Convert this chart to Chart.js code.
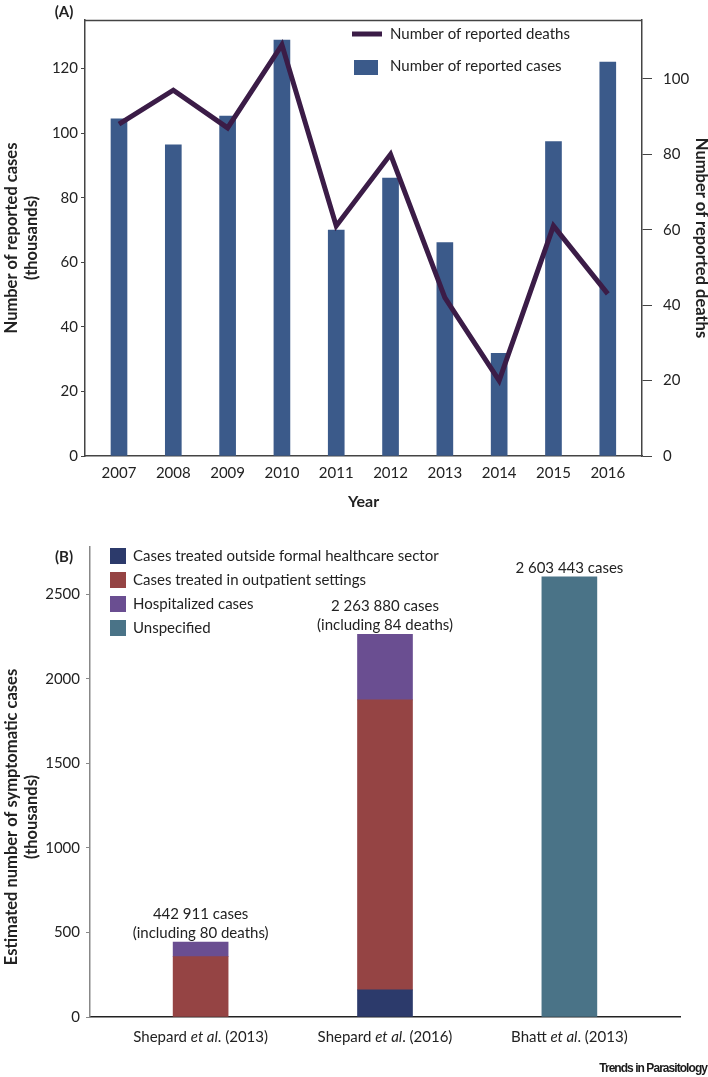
<!DOCTYPE html>
<html>
<head>
<meta charset="utf-8">
<script src="https://cdn.jsdelivr.net/npm/chart.js@4.4.1/dist/chart.umd.min.js"></script>
<style>
html,body{margin:0;padding:0;background:#fff;}
#wrap{position:relative;width:708px;height:1077px;overflow:hidden;background:#fff;}
#boxA{position:absolute;left:0;top:0;width:708px;height:520px;}
#boxB{position:absolute;left:0;top:520px;width:708px;height:557px;}
#brand{position:absolute;right:1px;top:1061px;font-family:"Liberation Sans",Arial,sans-serif;font-weight:bold;font-size:12px;letter-spacing:-0.95px;color:#1a1a1a;white-space:nowrap;}
</style>
</head>
<body>
<div id="wrap">
  <div id="boxA"><canvas id="chartA" width="708" height="520"></canvas></div>
  <div id="boxB"><canvas id="chartB" width="708" height="557"></canvas></div>
  <div id="brand">Trends in Parasitology</div>
</div>
<script>
// ---------- Panel A data ----------
const years = [2007, 2008, 2009, 2010, 2011, 2012, 2013, 2014, 2015, 2016];
const reportedCases = [104.4, 96.4, 105.3, 128.8, 70.0, 86.1, 66.1, 31.8, 97.4, 122.0]; // thousands
const reportedDeaths = [88, 97, 87, 109, 61, 80, 42, 20, 61, 43];
const casesTicks = [0, 20, 40, 60, 80, 100, 120];
const deathsTicks = [0, 20, 40, 60, 80, 100];

// ---------- Panel B data ----------
const studyAuthors = ['Shepard', 'Shepard', 'Bhatt'];
const studyYears = ['2013', '2016', '2013'];
const outsideFormal = [null, 160, null];   // thousands
const outpatient = [357, 1716, null];
const hospitalized = [86, 388, null];
const unspecified = [null, null, 2603];
const totalLabels = [
  ['442 911 cases', '(including 80 deaths)'],
  ['2 263 880 cases', '(including 84 deaths)'],
  ['2 603 443 cases']
];
const symptomaticTicks = [0, 500, 1000, 1500, 2000, 2500];

Chart.defaults.font.family = 'Lato, "Open Sans", sans-serif';
Chart.defaults.color = '#222';

const TXT = '#222';
const tickSet = arr => (s => { s.ticks = arr.map(v => ({value: v})); });

// ---------------- Chart A ----------------
const plugA = {
  id: 'plugA',
  afterDraw(chart) {
    const ctx = chart.ctx, ca = chart.chartArea;
    ctx.save();
    // top border of the box
    ctx.strokeStyle = '#444';
    ctx.lineWidth = 1.5;
    ctx.beginPath();
    ctx.moveTo(ca.left, ca.top + 0.5);
    ctx.lineTo(ca.right, ca.top + 0.5);
    ctx.stroke();
    // panel label
    ctx.fillStyle = TXT;
    ctx.font = 'bold 15px Lato';
    ctx.textAlign = 'center';
    ctx.textBaseline = 'middle';
    ctx.fillText('(A)', 64, 12);
    // legend
    const dsLine = chart.data.datasets[0], dsBar = chart.data.datasets[1];
    ctx.strokeStyle = dsLine.borderColor;
    ctx.lineWidth = 5;
    ctx.beginPath();
    ctx.moveTo(352, 34);
    ctx.lineTo(382, 34);
    ctx.stroke();
    ctx.fillStyle = dsBar.backgroundColor;
    ctx.fillRect(354, 60, 24, 15);
    ctx.fillStyle = TXT;
    ctx.font = '15px Lato';
    ctx.textAlign = 'left';
    ctx.fillText(dsLine.label, 390, 34);
    ctx.fillText(dsBar.label, 390, 66);
    ctx.restore();
  }
};

new Chart(document.getElementById('chartA'), {
  type: 'bar',
  data: {
    datasets: [
      {
        type: 'line',
        label: 'Number of reported deaths',
        data: years.map((y, i) => ({x: y, y: reportedDeaths[i]})),
        yAxisID: 'y1',
        borderColor: '#3b1c47',
        borderWidth: 5,
        pointRadius: 0,
        tension: 0,
        borderJoinStyle: 'miter',
        order: 0
      },
      {
        type: 'bar',
        label: 'Number of reported cases',
        data: years.map((y, i) => ({x: y, y: reportedCases[i]})),
        yAxisID: 'y',
        backgroundColor: '#3b5a8a',
        barThickness: 16,
        order: 1
      }
    ]
  },
  options: {
    responsive: false,
    animation: false,
    layout: {padding: {top: 1, left: 0, right: 0, bottom: 0}},
    plugins: {legend: {display: false}, tooltip: {enabled: false}},
    scales: {
      x: {
        type: 'linear',
        offset: false,
        min: 2006.374,
        max: 2016.63,
        grid: {display: false, drawTicks: false},
        border: {display: true, color: '#444', width: 1.5},
        afterBuildTicks: tickSet(years),
        ticks: {padding: 8, font: {size: 15}, color: TXT, callback: v => String(v)},
        title: {display: true, text: 'Year', font: {size: 16, weight: 'bold', lineHeight: '16px'},
                padding: {top: 0, bottom: 10}, color: TXT},
        afterFit(s) { s.height = 64; }
      },
      y: {
        position: 'left',
        min: 0,
        max: 135.05,
        grid: {drawOnChartArea: false, drawTicks: true, tickLength: 4, color: '#444'},
        border: {display: true, color: '#444', width: 1.5},
        afterBuildTicks: tickSet(casesTicks),
        ticks: {padding: 3, font: {size: 15}, color: TXT, callback: v => String(v)},
        title: {display: true, text: ['Number of reported cases', '(thousands)'],
                font: {size: 16.5, weight: 'bold', lineHeight: '20px'}, padding: {top: 2, bottom: 0}, color: TXT},
        afterFit(s) { s.width = 85; }
      },
      y1: {
        position: 'right',
        min: 0,
        max: 115.6,
        grid: {drawOnChartArea: false, drawTicks: true, tickLength: 10, color: '#444'},
        border: {display: true, color: '#444', width: 1.5},
        afterBuildTicks: tickSet(deathsTicks),
        ticks: {padding: 11, font: {size: 15}, color: TXT, callback: v => String(v)},
        title: {display: true, text: 'Number of reported deaths',
                font: {size: 16.5, weight: 'bold', lineHeight: '14px'}, padding: {top: 0, bottom: 0}, color: TXT},
        afterFit(s) { s.width = 66; }
      }
    }
  },
  plugins: [plugA]
});

// ---------------- Chart B ----------------
const plugB = {
  id: 'plugB',
  afterDraw(chart) {
    const ctx = chart.ctx, ca = chart.chartArea;
    const xs = chart.scales.x, ys = chart.scales.y;
    ctx.save();
    ctx.fillStyle = TXT;
    ctx.textBaseline = 'middle';
    // panel label
    ctx.font = 'bold 15px Lato';
    ctx.textAlign = 'center';
    ctx.fillText('(B)', 64, 37);
    // legend
    ctx.textAlign = 'left';
    ctx.font = '15px Lato';
    chart.data.datasets.forEach((ds, k) => {
      const top = 28 + k * 24;
      ctx.fillStyle = ds.backgroundColor;
      ctx.fillRect(110, top, 16, 16);
      ctx.fillStyle = TXT;
      ctx.fillText(ds.label, 133, top + 8);
    });
    // total annotations above bars
    ctx.textAlign = 'center';
    ctx.font = '15px Lato';
    for (let i = 0; i < studyAuthors.length; i++) {
      let total = 0;
      chart.data.datasets.forEach(ds => { const v = ds.data[i].y; if (v) total += v; });
      const px = xs.getPixelForValue(i);
      const py = ys.getPixelForValue(total);
      const lines = totalLabels[i];
      for (let j = 0; j < lines.length; j++) {
        const off = 9 + (lines.length - 1 - j) * 19;
        ctx.fillText(lines[j], px, py - off);
      }
    }
    // category labels with italic "et al"
    const ly = ca.bottom + 20;
    for (let i = 0; i < studyAuthors.length; i++) {
      const parts = [
        [studyAuthors[i] + ' ', '15px Lato'],
        ['et al', 'italic 15px Lato'],
        ['. (' + studyYears[i] + ')', '15px Lato']
      ];
      let w = 0;
      parts.forEach(p => { ctx.font = p[1]; w += ctx.measureText(p[0]).width; });
      let x = xs.getPixelForValue(i) - w / 2;
      ctx.textAlign = 'left';
      parts.forEach(p => { ctx.font = p[1]; ctx.fillText(p[0], x, ly); x += ctx.measureText(p[0]).width; });
    }
    // y axis title
    ctx.font = 'bold 16.5px Lato';
    ctx.textAlign = 'center';
    ctx.translate(12, ca.bottom - 200);
    ctx.rotate(-Math.PI / 2);
    ctx.fillText('Estimated number of symptomatic cases', 0, 0);
    ctx.fillText('(thousands)', 0, 20);
    ctx.restore();
  }
};

const idx = studyAuthors.map((s, i) => i);
new Chart(document.getElementById('chartB'), {
  type: 'bar',
  data: {
    datasets: [
      {label: 'Cases treated outside formal healthcare sector', data: idx.map(i => ({x: i, y: outsideFormal[i]})),
       backgroundColor: '#2c3a6b', barThickness: 55},
      {label: 'Cases treated in outpatient settings', data: idx.map(i => ({x: i, y: outpatient[i]})),
       backgroundColor: '#954444', barThickness: 55},
      {label: 'Hospitalized cases', data: idx.map(i => ({x: i, y: hospitalized[i]})),
       backgroundColor: '#6a4e91', barThickness: 55},
      {label: 'Unspecified', data: idx.map(i => ({x: i, y: unspecified[i]})),
       backgroundColor: '#4a7387', barThickness: 55}
    ]
  },
  options: {
    responsive: false,
    animation: false,
    layout: {padding: {top: 27, left: 0, right: 28, bottom: 0}},
    plugins: {legend: {display: false}, tooltip: {enabled: false}},
    scales: {
      x: {
        type: 'linear',
        stacked: true,
        offset: false,
        min: -0.6,
        max: 2.6,
        grid: {display: false, drawTicks: false},
        border: {display: true, color: '#222', width: 1.5},
        ticks: {display: false},
        afterFit(s) { s.height = 60; }
      },
      y: {
        stacked: true,
        min: 0,
        max: 2780,
        grid: {drawOnChartArea: false, drawTicks: true, tickLength: 4, color: '#888'},
        border: {display: true, color: '#888', width: 1.5},
        afterBuildTicks: tickSet(symptomaticTicks),
        ticks: {padding: 6, font: {size: 15}, color: TXT, callback: v => String(v)},
        afterFit(s) { s.width = 90; }
      }
    }
  },
  plugins: [plugB]
});
</script>
</body>
</html>
